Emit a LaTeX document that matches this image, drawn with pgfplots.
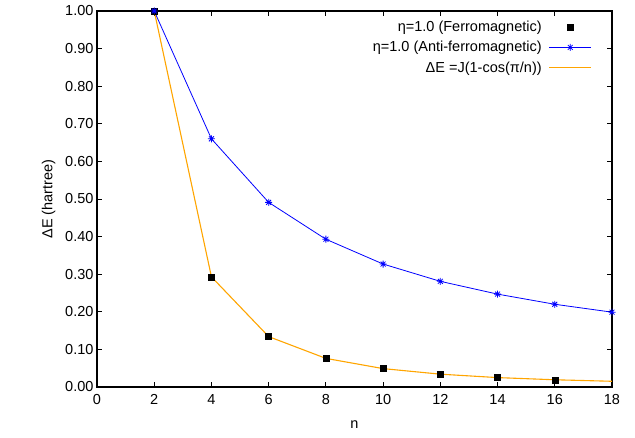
\documentclass[border=0pt]{standalone}
\usepackage{fontspec}
\setmainfont{Liberation Sans}
\usepackage{pgfplots}
\pgfplotsset{compat=1.18}
\definecolor{gpBlue}{HTML}{0000FF}
\definecolor{gpOrange}{HTML}{FFA500}
\pgfdeclareplotmark{starplus}{%
  \pgfpathmoveto{\pgfqpoint{-\pgfplotmarksize}{0pt}}\pgfpathlineto{\pgfqpoint{\pgfplotmarksize}{0pt}}%
  \pgfpathmoveto{\pgfqpoint{0pt}{-\pgfplotmarksize}}\pgfpathlineto{\pgfqpoint{0pt}{\pgfplotmarksize}}%
  \pgfpathmoveto{\pgfqpoint{-0.7\pgfplotmarksize}{-0.7\pgfplotmarksize}}\pgfpathlineto{\pgfqpoint{0.7\pgfplotmarksize}{0.7\pgfplotmarksize}}%
  \pgfpathmoveto{\pgfqpoint{-0.7\pgfplotmarksize}{0.7\pgfplotmarksize}}\pgfpathlineto{\pgfqpoint{0.7\pgfplotmarksize}{-0.7\pgfplotmarksize}}%
  \pgfusepathqstroke}
\begin{document}
\begin{tikzpicture}
\begin{axis}[
  scale only axis, width=515pt, height=376pt,
  xmin=0, xmax=18, ymin=0, ymax=1,
  xtick={0,2,...,18}, ytick={0,0.1,...,1.0},
  /pgf/number format/assume math mode=true,
  yticklabel style={/pgf/number format/fixed, /pgf/number format/fixed zerofill, /pgf/number format/precision=2},
  xticklabel style={yshift=-4pt},
  tick label style={font=\fontsize{14.5}{16}\selectfont},
  label style={font=\fontsize{14.5}{16}\selectfont},
  xlabel={n}, ylabel={ΔE (hartree)},
  xlabel style={yshift=-9pt},
  ylabel style={yshift=3pt},
  axis line style={line width=1.2pt},
  tick style={line width=0.9pt, black},
  major tick length=5pt,
  tick align=inside,
  legend plot pos=right, legend cell align=right,
  legend style={draw=none, fill=none, at={(rel axis cs:0.967,0.984)}, anchor=north east,
    column sep=5pt,
    font=\fontsize{14.5}{16}\selectfont, row sep=4.2pt},
]
\addplot[only marks, mark=square*, mark size=3pt, black,
  legend image code/.code={\draw[black] plot[only marks, mark=square*, mark size=3pt] coordinates {(21pt,0pt)};}] coordinates {
  (2,1.000) (4,0.293) (6,0.134) (8,0.076) (10,0.049) (12,0.034) (14,0.025) (16,0.019)};
\addlegendentry{η=1.0 (Ferromagnetic)}
\addplot[gpBlue, line width=0.8pt, mark=starplus, mark size=3.5pt,
  legend image code/.code={\draw[gpBlue, line width=0.8pt] (0pt,0pt) -- (42pt,0pt);
    \draw[gpBlue, line width=0.8pt] plot[only marks, mark=starplus, mark size=3.5pt] coordinates {(21pt,0pt)};}] coordinates {
  (2,1.000) (4,0.660) (6,0.491) (8,0.393) (10,0.327) (12,0.281) (14,0.247) (16,0.220) (18,0.199)};
\addlegendentry{η=1.0 (Anti-ferromagnetic)}
\addplot[gpOrange, line width=1.1pt,
  legend image code/.code={\draw[gpOrange, line width=1.1pt] (0pt,0pt) -- (42pt,0pt);}] coordinates {
  (2,1.000) (4,0.2929) (6,0.1340) (8,0.0761) (10,0.0489) (12,0.0341) (14,0.0250) (16,0.0192) (18,0.0152)};
\addlegendentry{ΔE =J(1-cos(π/n))}
\end{axis}
\pgfresetboundingbox
\path (current axis.south west) ++(-97pt,-51pt) rectangle ++(635pt,438pt);
\end{tikzpicture}
\end{document}
